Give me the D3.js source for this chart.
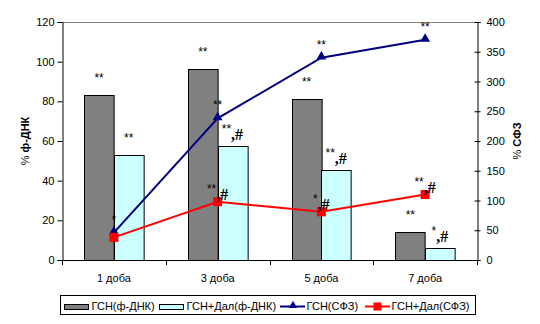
<!DOCTYPE html>
<html><head><meta charset="utf-8">
<script src="https://cdn.jsdelivr.net/npm/d3@7"></script>
<style>body{margin:0;background:#fff}svg{display:block}text{font-family:"Liberation Sans",Arial,sans-serif}</style>
</head><body><svg id="c" width="540" height="324"></svg>
<script>
const categories = ["1 доба","3 доба","5 доба","7 доба"];
const barSeriesNames = ["ГСН(ф-ДНК)","ГСН+Дал(ф-ДНК)"];
const lineSeriesNames = ["ГСН(СФЗ)","ГСН+Дал(СФЗ)"];
const gsnDNA = [83, 96.5, 81.2, 14];
const gsnDalDNA = [53, 57.6, 45.2, 5.9];
const gsnSFZ = [46, 238, 340, 370];
const gsnDalSFZ = [38, 98, 81, 110];
const gsnDNALabels = ["**","**","**","**"];
const gsnDalDNALabels = ["**","**,#","**,#","*,#"];
const gsnSFZLabels = ["*","**","**","**"];
const gsnDalSFZLabels = ["","**,#","*,#","**,#"];
const leftTicks = [0,20,40,60,80,100,120];
const rightTicks = [0,50,100,150,200,250,300,350,400];

const svg = d3.select("#c");
const L = 62, R = 477, T = 22, B = 260;
const x = d3.scaleBand().domain(categories).range([L, R]).padding(0);
const xs = d3.scaleBand().domain([0,1]).range([0, x.bandwidth()]).paddingInner(0).paddingOuter(0.75);
const yL = d3.scaleLinear().domain([0,120]).range([B, T]);
const yR = d3.scaleLinear().domain([0,400]).range([B, T]);

svg.append("line").attr("x1",L).attr("x2",R).attr("y1",T+0.5).attr("y2",T+0.5).attr("stroke","#808080");

const barData = [gsnDNA, gsnDalDNA];
const barFill = ["#808080","#CCFFFF"];
barData.forEach((vals, si) => {
  svg.append("g").selectAll("rect").data(vals).join("rect")
    .attr("x", (d,i) => Math.round(x(categories[i]) + xs(si)) + 0.5)
    .attr("y", d => Math.round(yL(d)) + 0.5)
    .attr("width", xs.bandwidth())
    .attr("height", d => B - Math.round(yL(d)))
    .attr("fill", barFill[si]).attr("stroke","#000").attr("stroke-width",1);
});

const gl = svg.append("g").attr("transform",`translate(${L+0.5},0)`)
  .call(d3.axisLeft(yL).tickValues(leftTicks).tickSize(5).tickPadding(3));
const gr = svg.append("g").attr("transform",`translate(${R+0.5},0)`)
  .call(d3.axisRight(yR).tickValues(rightTicks).tickSize(3).tickPadding(6));
gr.selectAll(".tick line").attr("x1",-3);
const gb = svg.append("g").attr("transform",`translate(0,${B+0.5})`)
  .call(d3.axisBottom(x).tickSize(0).tickPadding(14));
svg.append("g").selectAll("line").data(d3.range(categories.length+1)).join("line")
  .attr("x1", i => Math.round(L + i*x.bandwidth())+0.5).attr("x2", i => Math.round(L + i*x.bandwidth())+0.5)
  .attr("y1", B).attr("y2", B+5).attr("stroke","#000");
[gl,gr,gb].forEach(g => {
  g.select(".domain").attr("stroke","#000");
  g.selectAll(".tick line").attr("stroke","#000");
  g.selectAll("text").attr("font-size",11).attr("fill","#000").attr("font-family","Liberation Sans, Arial, sans-serif");
});
gb.select(".domain").attr("d", `M${L},0H${R+1}`);

const tl = svg.append("text").attr("transform","translate(29,141) rotate(-90)").attr("text-anchor","middle").attr("font-size",11);
tl.append("tspan").text("% ");
tl.append("tspan").attr("font-weight","bold").text("ф-ДНК");
const tr = svg.append("text").attr("transform","translate(521,141) rotate(-90)").attr("text-anchor","middle").attr("font-size",11);
tr.append("tspan").text("% ");
tr.append("tspan").attr("font-weight","bold").text("СФЗ");

const cx = c => x(c) + x.bandwidth()/2;
const lineData = [gsnSFZ, gsnDalSFZ];
const lineColor = ["#000080","#FF0000"];
lineData.forEach((vals, si) => {
  const line = d3.line().x((d,i) => cx(categories[i])).y(d => yR(d));
  svg.append("path").attr("d", line(vals)).attr("fill","none").attr("stroke",lineColor[si]).attr("stroke-width",2);
});
svg.append("g").selectAll("path").data(gsnSFZ).join("path")
  .attr("d", d3.symbol().type(d3.symbolTriangle).size(42))
  .attr("transform",(d,i)=>`translate(${cx(categories[i])},${yR(d)-1})`).attr("fill","#000080");
svg.append("g").selectAll("rect").data(gsnDalSFZ).join("rect")
  .attr("x",(d,i)=>cx(categories[i])-4.5).attr("y",d=>yR(d)-4.5).attr("width",9).attr("height",9).attr("fill","#FF0000");

function label(xc, base, s) {
  if (!s) return;
  const stars = s.replace(/[^*]/g,"");
  const rest = s.slice(stars.length);
  const t = svg.append("text").attr("x", xc).attr("y", base).attr("text-anchor","middle");
  t.append("tspan").attr("font-size",12).attr("fill","#000").text(stars);
  if (rest) t.append("tspan").attr("dy",7).attr("font-size",16).attr("font-weight","bold")
    .attr("font-family","Liberation Serif, Times New Roman, serif").attr("fill","#000").text(rest);
}
[gsnDNALabels, gsnDalDNALabels].forEach((labs, si) => {
  labs.forEach((s,i) => label(x(categories[i]) + xs(si) + xs.bandwidth()/2, yL(barData[si][i]) - 13, s));
});
[gsnSFZLabels, gsnDalSFZLabels].forEach((labs, si) => {
  labs.forEach((s,i) => label(cx(categories[i]), yR(lineData[si][i]) - 9, s));
});

const lg = svg.append("g");
lg.append("rect").attr("x",60.5).attr("y",295.5).attr("width",415).attr("height",19).attr("fill","#fff").attr("stroke","#000");
const items = [
  {name: barSeriesNames[0], type:"bar", c: barFill[0], x: 64, tx: 91.5},
  {name: barSeriesNames[1], type:"bar", c: barFill[1], x: 159, tx: 186.5},
  {name: lineSeriesNames[0], type:"tri", c: lineColor[0], x: 280, tx: 306.5},
  {name: lineSeriesNames[1], type:"sq", c: lineColor[1], x: 365, tx: 391.5}
];
items.forEach(it => {
  if (it.type === "bar") {
    lg.append("rect").attr("x",it.x+0.5).attr("y",304.5).attr("width",24).attr("height",5).attr("fill",it.c).attr("stroke","#000");
  } else {
    lg.append("line").attr("x1",it.x).attr("x2",it.x+25).attr("y1",306.5).attr("y2",306.5).attr("stroke",it.c).attr("stroke-width",2);
    if (it.type === "tri") lg.append("path").attr("d", d3.symbol().type(d3.symbolTriangle).size(30)).attr("transform",`translate(${it.x+13},305.5)`).attr("fill",it.c);
    else lg.append("rect").attr("x",it.x+8.5).attr("y",302.5).attr("width",8).attr("height",8).attr("fill",it.c);
  }
  lg.append("text").attr("x",it.tx).attr("y",310).attr("font-size",11).attr("fill","#000").text(it.name);
});
</script></body></html>
